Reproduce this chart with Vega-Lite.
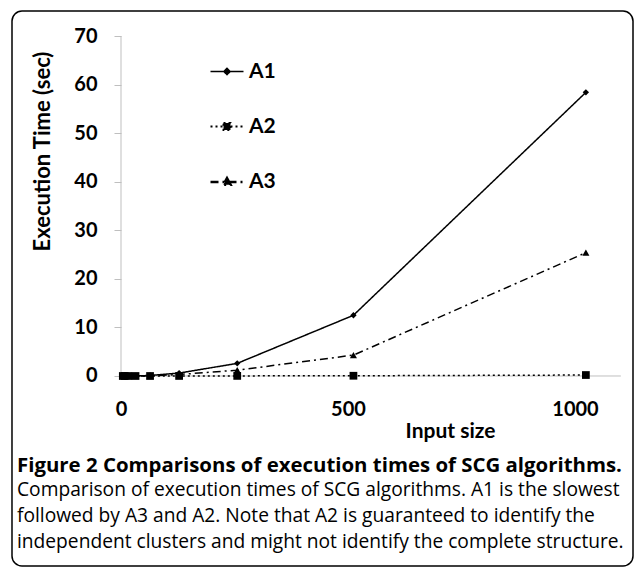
{
  "$schema": "https://vega.github.io/schema/vega-lite/v6.json",
  "width": 621,
  "height": 555,
  "autosize": {"type": "none"},
  "padding": {"left": 12, "top": 11, "right": 1, "bottom": 3},
  "background": "white",
  "config": {
    "view": {"stroke": "black", "strokeWidth": 1.5, "cornerRadius": 10, "fill": "white"}
  },
  "title": {
    "text": "Figure 2 Comparisons of execution times of SCG algorithms.",
    "subtitle": [
      "Comparison of execution times of SCG algorithms. A1 is the slowest",
      "followed by A3 and A2. Note that A2 is guaranteed to identify the",
      "independent clusters and might not identify the complete structure."
    ],
    "orient": "bottom",
    "anchor": "start",
    "frame": "group",
    "offset": -110,
    "dx": 5,
    "font": "Open Sans",
    "fontSize": 20.4,
    "fontWeight": "bold",
    "color": "black",
    "subtitleFont": "Open Sans",
    "subtitleFontSize": 19.2,
    "subtitleColor": "black",
    "subtitleLineHeight": 26,
    "subtitlePadding": 5
  },
  "data": {
    "values": [
      {"series": "A1", "size": 4, "time": 0.01},
      {"series": "A1", "size": 8, "time": 0.01},
      {"series": "A1", "size": 16, "time": 0.02},
      {"series": "A1", "size": 32, "time": 0.03},
      {"series": "A1", "size": 64, "time": 0.1},
      {"series": "A1", "size": 128, "time": 0.6},
      {"series": "A1", "size": 256, "time": 2.6},
      {"series": "A1", "size": 512, "time": 12.5},
      {"series": "A1", "size": 1024, "time": 58.4},
      {"series": "A2", "size": 4, "time": 0},
      {"series": "A2", "size": 8, "time": 0},
      {"series": "A2", "size": 16, "time": 0},
      {"series": "A2", "size": 32, "time": 0},
      {"series": "A2", "size": 64, "time": 0},
      {"series": "A2", "size": 128, "time": 0.01},
      {"series": "A2", "size": 256, "time": 0.02},
      {"series": "A2", "size": 512, "time": 0.05},
      {"series": "A2", "size": 1024, "time": 0.2},
      {"series": "A3", "size": 4, "time": 0},
      {"series": "A3", "size": 8, "time": 0},
      {"series": "A3", "size": 16, "time": 0.01},
      {"series": "A3", "size": 32, "time": 0.01},
      {"series": "A3", "size": 64, "time": 0.05},
      {"series": "A3", "size": 128, "time": 0.3},
      {"series": "A3", "size": 256, "time": 1.2},
      {"series": "A3", "size": 512, "time": 4.3},
      {"series": "A3", "size": 1024, "time": 25.4}
    ]
  },
  "layer": [
    {
      "data": {"values": [{}]},
      "mark": {"type": "rule", "color": "#bfbfbf", "strokeWidth": 1},
      "encoding": {
        "x": {"datum": 0, "type": "quantitative"},
        "y": {"datum": 0, "type": "quantitative"},
        "y2": {"datum": 70}
      }
    },
    {
      "data": {"values": [{}]},
      "mark": {"type": "rule", "color": "#bfbfbf", "strokeWidth": 1},
      "encoding": {
        "x": {"datum": 0, "type": "quantitative"},
        "x2": {"datum": 1101},
        "y": {"datum": 0, "type": "quantitative"}
      }
    },
    {
      "mark": {"type": "line", "color": "black", "strokeWidth": 1.5},
      "encoding": {
        "x": {
          "field": "size",
          "type": "quantitative",
          "scale": {"domain": [-240.1, 1127.8], "nice": false, "zero": false},
          "axis": {
            "orient": "bottom",
            "offset": -190,
            "values": [0, 500, 1000],
            "format": "d",
            "domain": false,
            "grid": false,
            "ticks": false,
            "tickSize": 0,
            "labelFont": "Lato",
            "labelFontSize": 20,
            "labelFontWeight": "bold",
            "labelColor": "black",
            "labelBaseline": "middle",
            "labelPadding": 33,
            "title": "Input size",
            "titleFont": "Lato",
            "titleFontSize": 21,
            "titleFontWeight": "bold",
            "titleColor": "black",
            "titleX": 438,
            "titleY": 55,
            "titleAlign": "center",
            "titleBaseline": "middle"
          }
        },
        "y": {
          "field": "time",
          "type": "quantitative",
          "scale": {"domain": [-39.12, 75.15], "nice": false, "zero": false},
          "axis": {
            "orient": "left",
            "offset": -109,
            "values": [0, 10, 20, 30, 40, 50, 60, 70],
            "domain": false,
            "grid": false,
            "ticks": true,
            "tickSize": 7,
            "tickColor": "#bfbfbf",
            "labelFont": "Lato",
            "labelFontSize": 20,
            "labelFontWeight": "bold",
            "labelColor": "black",
            "labelPadding": 17,
            "title": "Execution Time (sec)",
            "titleFont": "Lato",
            "titleFontSize": 22,
            "titleFontWeight": "bold",
            "titleColor": "black",
            "titleX": -79,
            "titleY": 140,
            "titleAngle": -90,
            "titleAlign": "center",
            "titleBaseline": "middle"
          }
        },
        "strokeDash": {
          "field": "series",
          "type": "nominal",
          "scale": {"domain": ["A1", "A2", "A3"], "range": [[1, 0], [2, 3], [8, 4, 2, 4]]},
          "legend": {
            "orient": "none",
            "legendX": 197,
            "legendY": 43,
            "title": null,
            "padding": 0,
            "symbolSize": 1089,
            "symbolStrokeColor": "black",
            "symbolStrokeWidth": 1.5,
            "symbolFillColor": "black",
            "labelFont": "Lato",
            "labelFontSize": 21,
            "labelFontWeight": "bold",
            "labelColor": "black",
            "labelOffset": 4,
            "rowPadding": 27,
            "encode": {
              "symbols": {
                "update": {
                  "shape": {"signal": "datum.value === 'A1' ? 'M-1,0H1M0,-0.19L0.19,0L0,0.19L-0.19,0Z' : datum.value === 'A2' ? 'M-1,0H1M-0.21,-0.21H0.21V0.21H-0.21Z' : 'M-1,0H1M0,-0.24L0.22,0.16H-0.22Z'"},
                  "fill": {"value": "black"},
                  "stroke": {"value": "black"}
                }
              }
            }
          }
        },
        "strokeWidth": {
          "field": "series",
          "type": "nominal",
          "scale": {"domain": ["A1", "A2", "A3"], "range": [1.5, 2.5, 1.5]},
          "legend": null
        }
      }
    },
    {
      "mark": {"type": "point", "filled": true, "color": "black", "opacity": 1},
      "encoding": {
        "x": {"field": "size", "type": "quantitative"},
        "y": {"field": "time", "type": "quantitative"},
        "shape": {
          "condition": [
            {"test": "datum.series === 'A1'", "value": "diamond"},
            {"test": "datum.series === 'A2'", "value": "square"}
          ],
          "value": "triangle-up"
        },
        "size": {
          "condition": [
            {"test": "datum.series === 'A1'", "value": 40},
            {"test": "datum.series === 'A2'", "value": 60}
          ],
          "value": 50
        }
      }
    }
  ]
}
